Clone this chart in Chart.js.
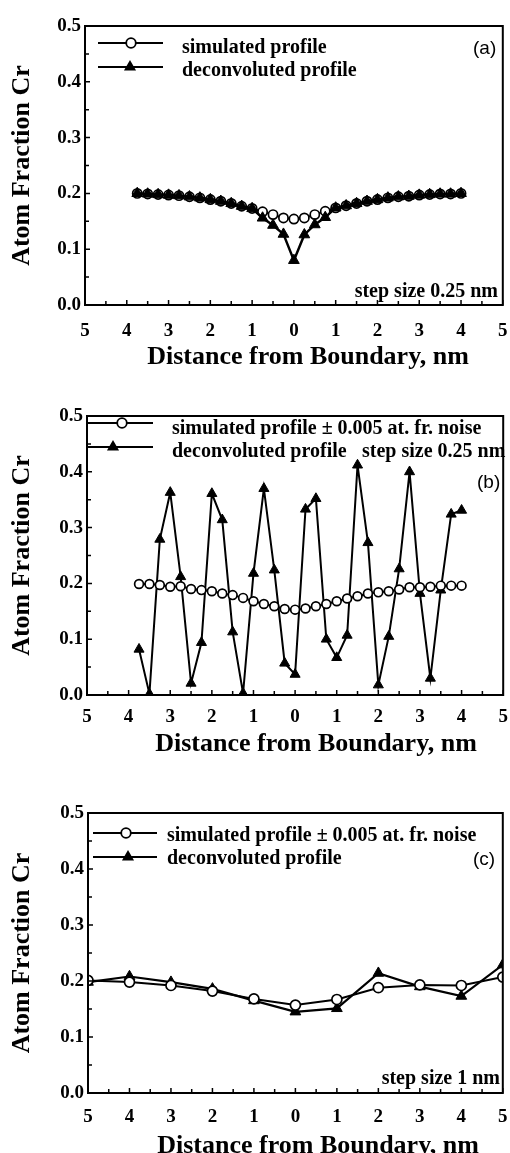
<!DOCTYPE html>
<html>
<head>
<meta charset="utf-8">
<script src="https://cdn.jsdelivr.net/npm/chart.js@4.4.0/dist/chart.umd.min.js"></script>
<style>
    html, body { margin: 0; padding: 0; background: #fff; width: 510px; height: 1153px; overflow: hidden; }
    .panel { position: absolute; left: 0; width: 510px; }
</style>
</head>
<body>
<div class="panel" style="top:0px"><canvas id="chartA" width="510" height="375"></canvas></div>
<div class="panel" style="top:390px"><canvas id="chartB" width="510" height="375"></canvas></div>
<div class="panel" style="top:787px"><canvas id="chartC" width="510" height="376"></canvas></div>
<script>
// distance from boundary (nm), 0.25 nm step
const xFine = [-3.75, -3.5, -3.25, -3, -2.75, -2.5, -2.25, -2, -1.75, -1.5, -1.25, -1, -0.75, -0.5, -0.25, 0,
    0.25, 0.5, 0.75, 1, 1.25, 1.5, 1.75, 2, 2.25, 2.5, 2.75, 3, 3.25, 3.5, 3.75, 4];
// distance from boundary (nm), 1 nm step
const xCoarse = [-5, -4, -3, -2, -1, 0, 1, 2, 3, 4, 5];

// (a) no noise
const simA = [0.200, 0.199, 0.198, 0.197, 0.196, 0.194, 0.192, 0.189, 0.186, 0.182, 0.177, 0.173, 0.167, 0.162, 0.156, 0.154,
    0.156, 0.162, 0.168, 0.174, 0.178, 0.182, 0.186, 0.189, 0.192, 0.194, 0.195, 0.197, 0.198, 0.199, 0.199, 0.200];
const decA = [0.200, 0.199, 0.198, 0.197, 0.196, 0.194, 0.192, 0.189, 0.186, 0.182, 0.177, 0.173, 0.156, 0.143, 0.127, 0.080,
    0.126, 0.144, 0.157, 0.174, 0.178, 0.182, 0.186, 0.189, 0.192, 0.194, 0.195, 0.197, 0.198, 0.199, 0.199, 0.200];

// (b) +-0.005 noise, 0.25 nm step
const simB = [0.199, 0.199, 0.197, 0.194, 0.195, 0.190, 0.188, 0.186, 0.182, 0.179, 0.174, 0.168, 0.163, 0.159, 0.154, 0.153,
    0.155, 0.159, 0.163, 0.168, 0.173, 0.177, 0.182, 0.184, 0.186, 0.189, 0.193, 0.193, 0.194, 0.196, 0.196, 0.196];
const decB = [0.082, 0.002, 0.279, 0.363, 0.212, 0.021, 0.094, 0.361, 0.314, 0.113, 0.003, 0.218, 0.370, 0.224, 0.057, 0.037,
    0.333, 0.352, 0.100, 0.067, 0.107, 0.412, 0.273, 0.018, 0.105, 0.226, 0.400, 0.182, 0.030, 0.188, 0.324, 0.331];

// (c) +-0.005 noise, 1 nm step
const simC = [0.201, 0.198, 0.192, 0.182, 0.168, 0.157, 0.167, 0.188, 0.193, 0.192, 0.207];
const decC = [0.198, 0.208, 0.198, 0.186, 0.165, 0.145, 0.151, 0.214, 0.190, 0.173, 0.229];

const xTickValues = [-5, -4, -3, -2, -1, 0, 1, 2, 3, 4, 5];
const yTickValues = [0, 0.1, 0.2, 0.3, 0.4, 0.5];

const serif = '"Liberation Serif", "Times New Roman", serif';
const boldSerif20 = 'bold 20px ' + serif;
const sans19 = '19px "Liberation Sans", Arial, sans-serif';

const drawMarker = (ctx, style, x, y, r) => {
    ctx.beginPath();
    if (style === 'circle') {
        ctx.arc(x, y, r, 0, Math.PI * 2);
        ctx.fillStyle = '#fff';
        ctx.fill();
        ctx.lineWidth = 1.8;
        ctx.stroke();
    } else {
        ctx.moveTo(x, y - r);
        ctx.lineTo(x + r * 0.866, y + r * 0.5);
        ctx.lineTo(x - r * 0.866, y + r * 0.5);
        ctx.closePath();
        ctx.fillStyle = '#000';
        ctx.fill();
    }
};

// box round the plot plus small inward ticks
const frameTicks = {
    id: 'frameTicks',
    afterDatasetsDraw(chart) {
        const { ctx, chartArea: a, scales: { x, y } } = chart;
        ctx.save();
        ctx.strokeStyle = '#000';
        ctx.lineWidth = 2;
        ctx.strokeRect(a.left, a.top, a.right - a.left, a.bottom - a.top);
        ctx.lineWidth = 1.5;
        ctx.beginPath();
        for (let i = -10; i <= 10; i++) {
            const px = x.getPixelForValue(i / 2);
            ctx.moveTo(px, a.bottom);
            ctx.lineTo(px, a.bottom - (i % 2 === 0 ? 5 : 4));
        }
        for (let j = 0; j <= 10; j++) {
            const py = y.getPixelForValue(j * 0.05);
            ctx.moveTo(a.left, py);
            ctx.lineTo(a.left + (j % 2 === 0 ? 5 : 4), py);
        }
        ctx.stroke();
        ctx.restore();
    },
};

// legend rows and the loose labels
const decor = {
    id: 'decor',
    afterDraw(chart, args, opts) {
        const ctx = chart.ctx;
        ctx.save();
        ctx.strokeStyle = '#000';
        (opts.rows || []).forEach((r) => {
            ctx.lineWidth = 2;
            ctx.beginPath();
            ctx.moveTo(r.x0, r.ly);
            ctx.lineTo(r.x1, r.ly);
            ctx.stroke();
            drawMarker(ctx, r.marker, r.mx, r.ly, r.size);
        });
        (opts.notes || []).forEach((n) => {
            ctx.font = n.font;
            ctx.fillStyle = '#000';
            ctx.textAlign = n.align || 'left';
            ctx.textBaseline = 'alphabetic';
            ctx.fillText(n.text, n.x, n.y);
        });
        ctx.restore();
    },
};

const makePanel = (canvasId, cfg) => {
    const datasets = [
        {
            label: 'simulated profile',
            data: cfg.xs.map((v, i) => ({ x: v, y: cfg.sim[i] })),
            borderColor: '#000',
            borderWidth: 2,
            pointStyle: 'circle',
            pointRadius: cfg.circleR,
            pointBorderWidth: 1.7,
            pointBorderColor: '#000',
            pointBackgroundColor: '#fff',
            tension: 0,
            order: cfg.circlesOnTop ? 0 : 1,
        },
        {
            label: 'deconvoluted profile',
            data: cfg.xs.map((v, i) => ({ x: v, y: cfg.dec[i] })),
            borderColor: '#000',
            borderWidth: cfg.decWidth,
            pointStyle: 'triangle',
            pointRadius: cfg.triR,
            pointBorderWidth: 1,
            pointBorderColor: '#000',
            pointBackgroundColor: '#000',
            tension: 0,
            order: cfg.circlesOnTop ? 1 : 0,
        },
    ];

    return new Chart(document.getElementById(canvasId), {
        type: 'line',
        data: { datasets },
        plugins: [frameTicks, decor],
        options: {
            responsive: false,
            animation: false,
            devicePixelRatio: 1,
            layout: { padding: { top: 26, right: 510 - cfg.right, bottom: 0, left: 0 } },
            plugins: {
                legend: { display: false },
                tooltip: { enabled: false },
                decor: { rows: cfg.rows, notes: cfg.notes },
            },
            scales: {
                x: {
                    type: 'linear',
                    min: -5,
                    max: 5,
                    afterBuildTicks: (s) => { s.ticks = xTickValues.map((v) => ({ value: v })); },
                    afterFit: (s) => { s.height = 70; s.paddingLeft = 0; s.paddingRight = 0; },
                    grid: { display: false, drawTicks: false },
                    border: { display: false },
                    ticks: {
                        padding: cfg.xPad,
                        color: '#000',
                        maxRotation: 0,
                        font: { family: serif, size: 19, weight: 'bold' },
                        callback: (v) => String(Math.abs(v)),
                    },
                },
                y: {
                    min: 0,
                    max: 0.5,
                    afterBuildTicks: (s) => { s.ticks = yTickValues.map((v) => ({ value: v })); },
                    afterFit: (s) => { s.width = cfg.left; s.paddingTop = 0; s.paddingBottom = 0; },
                    grid: { display: false, drawTicks: false },
                    border: { display: false },
                    ticks: {
                        padding: 4,
                        color: '#000',
                        font: { family: serif, size: 19, weight: 'bold' },
                        callback: (v) => Number(v).toFixed(1),
                    },
                    title: {
                        display: true,
                        text: 'Atom Fraction Cr',
                        color: '#000',
                        padding: { top: 7, bottom: 0 },
                        font: { family: serif, size: 26, weight: 'bold' },
                    },
                },
            },
        },
    });
};

const titleFont = 'bold 26px ' + serif;

makePanel('chartA', {
    xs: xFine, sim: simA, dec: decA, left: 85, right: 505, xPad: 15,
    circleR: 4.6, triR: 6.2, decWidth: 2.5, circlesOnTop: false,
    rows: [
        { x0: 98, x1: 163, ly: 43, mx: 131, marker: 'circle', size: 4.8 },
        { x0: 98, x1: 163, ly: 67, mx: 130, marker: 'triangle', size: 7 },
    ],
    notes: [
        { text: 'simulated profile', x: 182, y: 53, font: boldSerif20 },
        { text: 'deconvoluted profile', x: 182, y: 76, font: boldSerif20 },
        { text: '(a)', x: 473, y: 54, font: sans19 },
        { text: 'step size 0.25 nm', x: 498, y: 297, font: boldSerif20, align: 'right' },
        { text: 'Distance from Boundary, nm', x: 308, y: 364, font: titleFont, align: 'center' },
    ],
});

makePanel('chartB', {
    xs: xFine, sim: simB, dec: decB, left: 87, right: 507, xPad: 11,
    circleR: 4.4, triR: 5.8, decWidth: 2, circlesOnTop: true,
    rows: [
        { x0: 87, x1: 153, ly: 33, mx: 122, marker: 'circle', size: 4.8 },
        { x0: 87, x1: 153, ly: 57, mx: 113, marker: 'triangle', size: 7 },
    ],
    notes: [
        { text: 'simulated profile \u00b1 0.005 at. fr. noise', x: 172, y: 44, font: boldSerif20 },
        { text: 'deconvoluted profile', x: 172, y: 67, font: boldSerif20 },
        { text: 'step size 0.25 nm', x: 362, y: 67, font: boldSerif20 },
        { text: '(b)', x: 477, y: 98, font: sans19 },
        { text: 'Distance from Boundary, nm', x: 316, y: 361, font: titleFont, align: 'center' },
    ],
});

makePanel('chartC', {
    xs: xCoarse, sim: simC, dec: decC, left: 88, right: 508, xPad: 13,
    circleR: 5, triR: 6.2, decWidth: 2.2, circlesOnTop: true,
    rows: [
        { x0: 93, x1: 157, ly: 46, mx: 126, marker: 'circle', size: 4.8 },
        { x0: 93, x1: 157, ly: 70, mx: 128, marker: 'triangle', size: 7 },
    ],
    notes: [
        { text: 'simulated profile \u00b1 0.005 at. fr. noise', x: 167, y: 54, font: boldSerif20 },
        { text: 'deconvoluted profile', x: 167, y: 77, font: boldSerif20 },
        { text: '(c)', x: 473, y: 78, font: sans19 },
        { text: 'step size 1 nm', x: 500, y: 297, font: boldSerif20, align: 'right' },
        { text: 'Distance from Boundary, nm', x: 318, y: 366, font: titleFont, align: 'center' },
    ],
});
</script>
</body>
</html>
